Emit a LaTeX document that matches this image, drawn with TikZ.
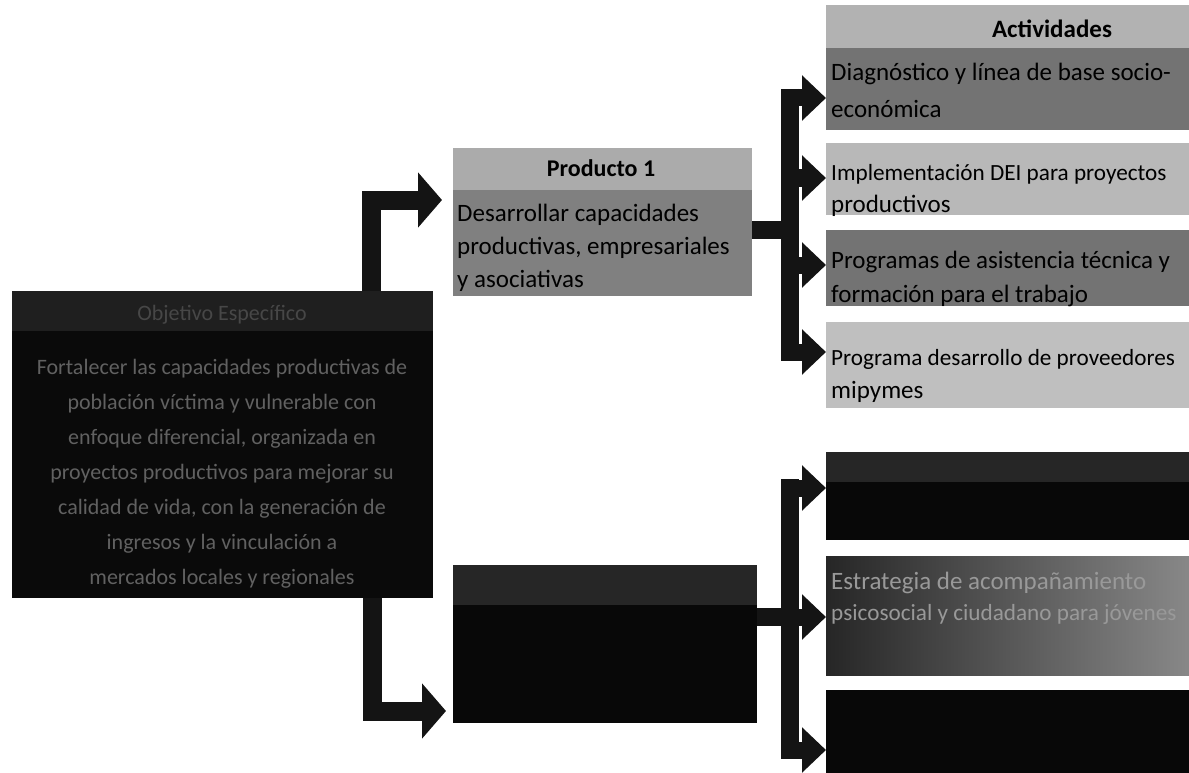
\documentclass[tikz,border=0pt]{standalone}
\usepackage{fontspec}
\setmainfont{Carlito}
\usetikzlibrary{arrows.meta}
\begin{document}
\begin{tikzpicture}[x=1pt,y=-1pt,
  box/.style={draw=none, inner sep=0pt, anchor=north west},
  txt/.style={inner sep=0pt, anchor=base west, font=\fontsize{25}{32}\selectfont, text=black},
  tighttxt/.style={txt, font=\fontsize{23.2}{32}\selectfont},
  dimtxt/.style={inner sep=0pt, anchor=base, font=\fontsize{22}{30}\selectfont, text=black!62},
  fat/.style={draw=black!92, line width=19pt, line join=miter, -{Triangle[length=24pt,width=54pt]}},
  trunk/.style={draw=black!92, line width=18pt},
  branch/.style={draw=black!92, line width=17pt, -{Triangle[length=24pt,width=44pt]}}
]
\useasboundingbox (0,0) rectangle (1189,773);
\clip (0,0) rectangle (1189,773);

% ---- left box
\node[box, fill=black!96, minimum width=421pt, minimum height=307pt] (obj) at (12,291) {};
\node[box, fill=black!88, minimum width=421pt, minimum height=40pt] (objh) at (12,291) {};
\node[dimtxt, text=black!72] (objt0) at (222,320) {Objetivo Específico};
\node[dimtxt] (objt1) at (222,374) {Fortalecer las capacidades productivas de};
\node[dimtxt] (objt2) at (222,409) {población víctima y vulnerable con};
\node[dimtxt] (objt3) at (222,444) {enfoque diferencial, organizada en};
\node[dimtxt] (objt4) at (222,479) {proyectos productivos para mejorar su};
\node[dimtxt] (objt5) at (222,514) {calidad de vida, con la generación de};
\node[dimtxt] (objt6) at (222,549) {ingresos y la vinculación a};
\node[dimtxt] (objt7) at (222,584) {mercados locales y regionales};

% ---- product 1
\node[box, fill=black!50, minimum width=299pt, minimum height=148pt] (p1) at (453,148) {};
\node[box, fill=black!33, minimum width=299pt, minimum height=42pt] (p1h) at (453,148) {};
\node[txt, anchor=base, font=\bfseries\fontsize{24}{32}\selectfont] (p1t0) at (601,176) {Producto 1};
\node[txt] (p1t1) at (457,221) {Desarrollar capacidades};
\node[txt] (p1t2) at (457,254) {productivas, empresariales};
\node[txt] (p1t3) at (457,287) {y asociativas};

% ---- product 2
\node[box, fill=black!97, minimum width=304pt, minimum height=158pt] (p2) at (453,565) {};
\node[box, fill=black!85, minimum width=304pt, minimum height=40pt] (p2h) at (453,565) {};

% ---- activities
\node[box, fill=black!30, minimum width=380pt, minimum height=43pt] (ah) at (826,5) {};
\node[txt, anchor=base, font=\bfseries\fontsize{25}{32}\selectfont] (aht) at (1052,38) {Actividades};
\node[box, fill=black!55, minimum width=380pt, minimum height=82pt] (a1) at (826,48) {};
\node[box, fill=black!28, minimum width=380pt, minimum height=72pt] (a2) at (826,143) {};
\node[box, fill=black!55, minimum width=380pt, minimum height=76pt] (a3) at (826,230) {};
\node[box, fill=black!25, minimum width=380pt, minimum height=86pt] (a4) at (826,322) {};
\node[txt] (a1t1) at (831,81) {Diagnóstico y línea de base socio-};
\node[txt] (a1t2) at (831,118) {económica};
\node[tighttxt] (a2t1) at (831,180) {Implementación DEI para proyectos};
\node[txt] (a2t2) at (831,212) {productivos};
\node[txt] (a3t1) at (831,268) {Programas de asistencia técnica y};
\node[txt] (a3t2) at (831,302) {formación para el trabajo};
\node[tighttxt] (a4t1) at (831,365) {Programa desarrollo de proveedores};
\node[txt] (a4t2) at (831,398) {mipymes};

% ---- lower activities
\node[box, fill=black!97, minimum width=380pt, minimum height=88pt] (b1) at (826,452) {};
\node[box, fill=black!85, minimum width=380pt, minimum height=30pt] (b1h) at (826,452) {};
\node[box, left color=black!85, right color=black!45, minimum width=380pt, minimum height=119pt] (b2) at (826,556) {};
\node[txt, text=black!40] (b2t1) at (831,589) {Estrategia de acompañamiento};
\node[tighttxt, text=black!40] (b2t2) at (831,620) {psicosocial y ciudadano para jóvenes};
\node[box, fill=black!97, minimum width=380pt, minimum height=100pt] (b3) at (826,690) {};

% ---- elbow arrows from left box
\coordinate (ux) at (371,0);
\coordinate (dx) at (372,0);
\coordinate (p1in) at (442,200);
\coordinate (p2in) at (446,711);
\draw[fat] (obj.north -| ux) |- (p1in);
\draw[fat] (obj.south -| dx) |- (p2in);

% ---- upper fan
\coordinate (t1a) at (790,89);
\coordinate (t1b) at (790,361);
\coordinate (s1) at (790,230);
\draw[trunk] (p1.east |- s1) -- (s1);
\draw[trunk] (t1a) -- (t1b);
\coordinate (c1) at (790,98);
\coordinate (c2) at (790,178);
\coordinate (c3) at (790,265);
\coordinate (c4) at (790,352);
\draw[branch] (c1) -- (c1 -| a1.west);
\draw[branch] (c2) -- (c2 -| a2.west);
\draw[branch] (c3) -- (c3 -| a3.west);
\draw[branch] (c4) -- (c4 -| a4.west);

% ---- lower fan
\coordinate (t2a) at (790,479);
\coordinate (t2b) at (790,759);
\coordinate (s2) at (790,617);
\draw[trunk] (p2.east |- s2) -- (s2);
\draw[trunk] (t2a) -- (t2b);
\coordinate (d1) at (790,488);
\coordinate (d2) at (790,617);
\coordinate (d3) at (790,750);
\draw[branch] (d1) -- (d1 -| b1.west);
\draw[branch] (d2) -- (d2 -| b2.west);
\draw[branch] (d3) -- (d3 -| b3.west);
\end{tikzpicture}
\end{document}
